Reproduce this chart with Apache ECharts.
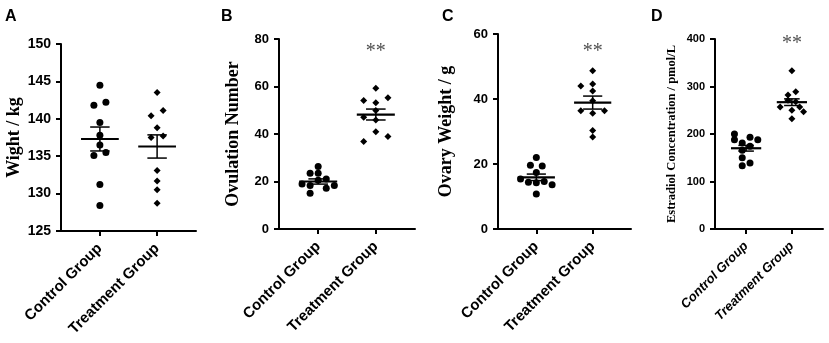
<!DOCTYPE html>
<html>
<head>
<meta charset="utf-8">
<script src="https://cdn.jsdelivr.net/npm/echarts@6/dist/echarts.min.js"></script>
<style>
  html, body { margin: 0; padding: 0; background: #fff; }
  #main { width: 829px; height: 343px; }
</style>
</head>
<body>
<div id="main"></div>
<script>
const groups = ['Control Group', 'Treatment Group']

// A - weight
const weightControl = [144.5, 141.8, 142.2, 139.5, 137.8, 136.5, 135.1, 135.5, 131.2, 128.4]
const weightControlJit = [0, -1.5, 1.5, 0, 0, 0, -1.5, 1.5, 0, 0]
const weightTreat = [143.5, 140.4, 141.1, 138.8, 137.5, 137.7, 133.1, 131.7, 130.5, 128.7]
const weightTreatJit = [0, -1.5, 1.5, 0, -1.5, 1.5, 0, 0, 0, 0]
const weightMean = [137.3, 136.3]
const weightSem = [1.6, 1.55]

// B - ovulation number
const ovuControl = [26.3, 23.5, 23.5, 21.1, 18.9, 18.3, 17.2, 18.3, 15.1, 20.5]
const ovuControlJit = [0, -2, 0, 2, -4, -2, 2, 4, -2, 0]
const ovuTreat = [59.3, 54.1, 53.2, 55.3, 49.9, 47.1, 45.9, 41.0, 36.8, 38.9]
const ovuTreatJit = [0, -3, 0, 3, 0, -3, 0, 0, -3, 3]
const ovuMean = [20.0, 48.2]
const ovuSem = [1.1, 2.3]

// C - ovary weight
const ovaryControl = [22.0, 19.6, 19.4, 17.4, 15.4, 14.4, 14.2, 14.6, 13.6, 10.8]
const ovaryControlJit = [0, -1.5, 1.5, 0, -4, -2, 0, 2, 4, 0]
const ovaryTreat = [48.7, 44.0, 44.6, 42.5, 39.5, 36.4, 35.6, 36.4, 30.3, 28.3]
const ovaryTreatJit = [0, -3, 0, 0, 0, -3, 0, 3, 0, 0]
const ovaryMean = [15.9, 38.9]
const ovarySem = [1.0, 2.0]

// D - estradiol
const e2Control = [200, 188, 181, 193, 188, 166, 174, 150, 133, 139]
const e2ControlJit = [-3, -3, -1, 1, 3, -1, 1, -1, -1, 1]
const e2Treat = [333, 289, 282, 268, 271, 257, 257, 250, 247, 232]
const e2TreatJit = [0, 1, -1, 1, -1, -3, 2, 0, 3, 0]
const e2Mean = [170, 267]
const e2Sem = [6, 7]

// significance marks (y position of the '**')
const starsY = [null, 74.7, 54.6, 391]

const chart = echarts.init(document.getElementById('main'))

const panels = [
  { letter: 'A', name: 'Wight / kg', min: 125, max: 150, interval: 5,
    c: weightControl, cj: weightControlJit, t: weightTreat, tj: weightTreatJit, mean: weightMean, sem: weightSem,
    grid: { left: 61, top: 44, width: 135, height: 187 }, lx: 0, nameSize: 18, nameGap: 35, tickSize: 14, catSize: 15, slot: 0.07 },
  { letter: 'B', name: 'Ovulation Number', min: 0, max: 80, interval: 20,
    c: ovuControl, cj: ovuControlJit, t: ovuTreat, tj: ovuTreatJit, mean: ovuMean, sem: ovuSem,
    grid: { left: 279, top: 39, width: 136, height: 190 }, lx: 216, nameSize: 18, nameGap: 37, tickSize: 13, catSize: 15, slot: 0.07 },
  { letter: 'C', name: 'Ovary Weight / g', min: 0, max: 60, interval: 20,
    c: ovaryControl, cj: ovaryControlJit, t: ovaryTreat, tj: ovaryTreatJit, mean: ovaryMean, sem: ovarySem,
    grid: { left: 498, top: 34, width: 133, height: 195 }, lx: 437, nameSize: 18, nameGap: 43, tickSize: 13, catSize: 15, slot: 0.07 },
  { letter: 'D', name: 'Estradiol Concentration / pmol/L', min: 0, max: 400, interval: 100,
    c: e2Control, cj: e2ControlJit, t: e2Treat, tj: e2TreatJit, mean: e2Mean, sem: e2Sem,
    grid: { left: 715, top: 39, width: 108, height: 190 }, lx: 646, nameSize: 12.5, nameGap: 37, tickSize: 11, catSize: 13, slot: 0.085, italic: true }
]

const option = {
  animation: false,
  backgroundColor: '#fff',
  title: [],
  grid: [],
  xAxis: [],
  yAxis: [],
  series: []
}

panels.forEach((p, i) => {
  option.title.push({
    text: p.letter, left: p.lx, top: 4,
    textStyle: { fontFamily: 'Liberation Sans', fontWeight: 'bold', fontSize: 16, color: '#000' }
  })
  option.grid.push(Object.assign({ containLabel: false }, p.grid))
  option.xAxis.push({
    type: 'value', gridIndex: i, min: 0.32, max: 2.68,
    splitLine: { show: false },
    axisLine: { onZero: false, lineStyle: { color: '#000', width: 2 } },
    axisTick: { customValues: [1, 2], length: 5, lineStyle: { color: '#000', width: 2 } },
    axisLabel: {
      customValues: [1, 2], rotate: 45, margin: 15,
      formatter: v => groups[Math.round(v) - 1] || '',
      fontFamily: 'Liberation Sans', fontWeight: 'bold', fontSize: p.catSize,
      fontStyle: p.italic ? 'italic' : 'normal', color: '#000'
    }
  })
  option.yAxis.push({
    type: 'value', gridIndex: i, min: p.min, max: p.max, interval: p.interval,
    name: p.name, nameLocation: 'middle', nameGap: p.nameGap,
    nameTextStyle: { fontFamily: 'Liberation Serif', fontWeight: 'bold', fontSize: p.nameSize, color: '#000' },
    splitLine: { show: false },
    axisLine: { show: true, lineStyle: { color: '#000', width: 2 } },
    axisTick: { show: true, length: 5, lineStyle: { color: '#000', width: 2 } },
    axisLabel: { margin: 10, fontFamily: 'Liberation Sans', fontWeight: 'bold', fontSize: p.tickSize, color: '#000' }
  })
  option.series.push({
    type: 'scatter', xAxisIndex: i, yAxisIndex: i, symbol: 'circle', symbolSize: 7,
    itemStyle: { color: '#000', opacity: 1 },
    data: p.c.map((v, k) => [1 + p.cj[k] * p.slot, v])
  })
  option.series.push({
    type: 'scatter', xAxisIndex: i, yAxisIndex: i, symbol: 'diamond', symbolSize: 7,
    itemStyle: { color: '#000', opacity: 1 },
    data: p.t.map((v, k) => [2 + p.tj[k] * p.slot, v])
  })
  option.series.push({
    type: 'custom', xAxisIndex: i, yAxisIndex: i,
    data: p.mean.map((m, k) => [k + 1, m, p.sem[k]]),
    renderItem: (params, api) => {
      const x = api.value(0), m = api.value(1), s = api.value(2)
      const line = (a, b, w) => ({
        type: 'line',
        shape: { x1: a[0], y1: a[1], x2: b[0], y2: b[1] },
        style: { stroke: '#000', lineWidth: w }
      })
      return {
        type: 'group',
        children: [
          line(api.coord([x - 0.33, m]), api.coord([x + 0.33, m]), 2.2),
          line(api.coord([x, m - s]), api.coord([x, m + s]), 1.5),
          line(api.coord([x - 0.17, m + s]), api.coord([x + 0.17, m + s]), 1.5),
          line(api.coord([x - 0.17, m - s]), api.coord([x + 0.17, m - s]), 1.5)
        ]
      }
    }
  })
  if (starsY[i] != null) {
    option.series.push({
      type: 'scatter', xAxisIndex: i, yAxisIndex: i, symbolSize: 0,
      data: [[2, starsY[i]]],
      label: {
        show: true, position: 'inside', formatter: '**',
        fontFamily: 'Liberation Serif', fontSize: 20, color: '#222'
      }
    })
  }
})

chart.setOption(option)
</script>
</body>
</html>
